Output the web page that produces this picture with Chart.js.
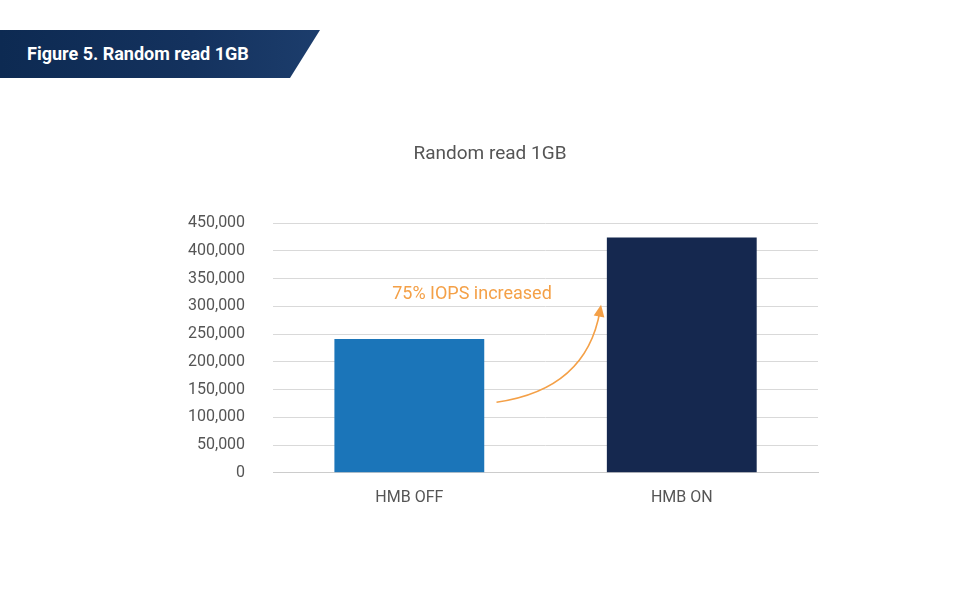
<!DOCTYPE html>
<html><head><meta charset="utf-8">
<script src="https://cdn.jsdelivr.net/npm/chart.js@4"></script>
<style>
html,body{margin:0;padding:0;background:#fff;}
#wrap{position:relative;width:980px;height:613px;}
#banner{position:absolute;left:0;top:30px;width:320px;height:48px;background:linear-gradient(90deg,#0d2a52,#14325e 60%,#1c3d6c);clip-path:polygon(0 0,100% 0,290px 100%,0 100%);}
#banner span{position:absolute;left:27px;top:13px;color:#fff;font:bold 18px Roboto,"Liberation Sans",sans-serif;}
#title{position:absolute;left:0;width:980px;top:141px;text-align:center;color:#555;font:19px Roboto,sans-serif;}
canvas{position:absolute;left:0;top:0;}
</style></head><body>
<div id="wrap"><canvas id="c" width="980" height="613"></canvas>
<div id="banner"><span>Figure 5. Random read 1GB</span></div>
<div id="title">Random read 1GB</div></div>
<script>
const categories=["HMB OFF","HMB ON"];
const iops=[241000,424000];
const yTicks=[0,50000,100000,150000,200000,250000,300000,350000,400000,450000];
const annotationText="75% IOPS increased";
const arrowFrom=[0.32,127000], arrowCtrl=[0.65,150000], arrowTo=[0.70,292000];
const annot={id:'annot',afterDatasetsDraw(ch){
 const x=ch.scales.x,y=ch.scales.y,ctx=ch.ctx;
 const px=p=>[x.getPixelForValue(p[0]),y.getPixelForValue(p[1])];
 const a=px(arrowFrom),c=px(arrowCtrl),b=px(arrowTo);
 ctx.save();ctx.strokeStyle='#f4a047';ctx.fillStyle='#f4a047';ctx.lineWidth=1.6;
 ctx.beginPath();ctx.moveTo(a[0],a[1]);ctx.quadraticCurveTo(c[0],c[1],b[0],b[1]);ctx.stroke();
 const ang=Math.atan2(b[1]-c[1],b[0]-c[0]);
 ctx.beginPath();ctx.moveTo(b[0]+Math.cos(ang)*6,b[1]+Math.sin(ang)*6);
 ctx.lineTo(b[0]+Math.cos(ang+2.4)*8,b[1]+Math.sin(ang+2.4)*8);
 ctx.lineTo(b[0]+Math.cos(ang-2.4)*8,b[1]+Math.sin(ang-2.4)*8);ctx.closePath();ctx.fill();
 ctx.font='18px Roboto, sans-serif';ctx.textAlign='center';ctx.textBaseline='middle';
 ctx.fillText(annotationText,x.getPixelForValue(0.23),y.getPixelForValue(322000));
 ctx.restore();}};
new Chart(document.getElementById('c'),{type:'bar',
 data:{labels:categories,datasets:[{data:iops,backgroundColor:['#1b75b9','#15284f'],barPercentage:0.55,categoryPercentage:1}]},
 options:{responsive:false,animation:false,
  layout:{padding:{left:160,right:162,top:223,bottom:97}},
  plugins:{legend:{display:false},tooltip:{enabled:false}},
  scales:{
   x:{grid:{display:false},border:{color:'#ccc'},ticks:{color:'#555',font:{family:'Roboto',size:16},padding:8}},
   y:{min:0,max:450000,afterBuildTicks:s=>{s.ticks=yTicks.map(v=>({value:v}));},
      grid:{color:'#d9d9d9',drawTicks:false},border:{display:false},
      ticks:{color:'#555',font:{family:'Roboto',size:16},padding:28,callback:v=>v.toLocaleString('en-US')}}}},
 plugins:[annot]});
</script></body></html>
